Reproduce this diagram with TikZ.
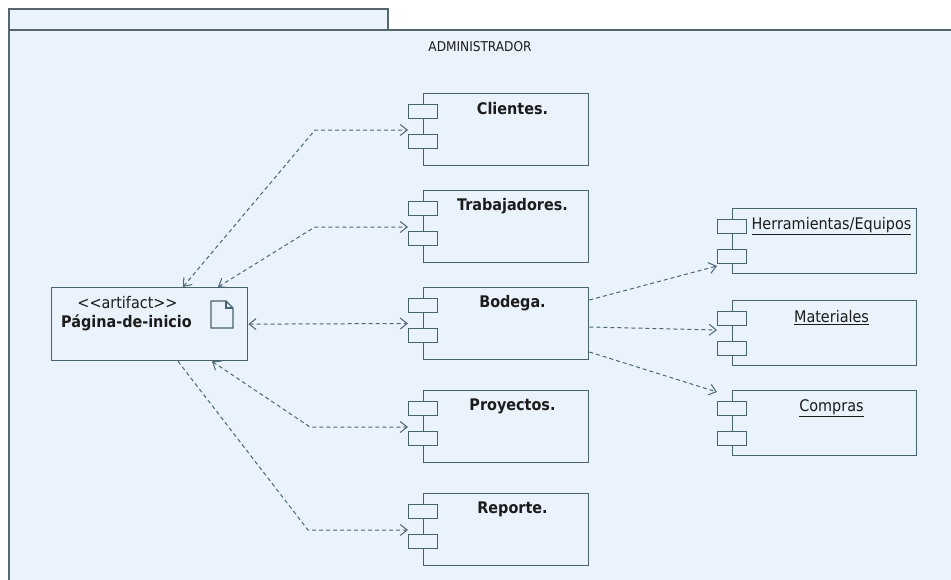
\documentclass[tikz,border=0pt]{standalone}
\usepackage{fontspec}
\setmainfont{DejaVu Sans Condensed}[Ligatures=TeXOff]
\usetikzlibrary{arrows.meta,calc}

\definecolor{pkgfill}{HTML}{EAF3FC}
\definecolor{pkgline}{HTML}{56666F}
\definecolor{edge}{HTML}{46626F}
\definecolor{depline}{HTML}{4C6674}
\definecolor{ink}{HTML}{1C1C1C}

\tikzset{
  comp/.style={draw=edge, line width=1.3pt, fill=pkgfill, anchor=north west,
    inner sep=0pt, minimum width=165pt, minimum height=72pt},
  rcomp/.style={comp, minimum width=184pt, minimum height=65pt},
  port/.style={draw=edge, line width=1.2pt, fill=pkgfill, anchor=north west,
    inner sep=0pt, minimum width=29pt, minimum height=14pt},
  ltitle/.style={text=ink, font=\fontsize{16}{19}\selectfont\bfseries, inner sep=0pt},
  rtitle/.style={text=ink, font=\fontsize{16}{19}\selectfont, inner sep=0pt},
  barb/.tip={Straight Barb[length=7pt,width=11pt,line width=1pt]},
  dep/.style={draw=depline, line width=1pt, dash pattern=on 4pt off 3pt},
}

% left-hand component: name, top edge, title
\newcommand\lcomp[3]{%
  \node[comp] (#1) at (423,#2) {};
  \node[port] (#1p1) at (408,{#2+11}) {};
  \node[port] (#1p2) at (408,{#2+41}) {};
  \node[ltitle] (#1t) at (512.5,{#2+16}) {#3};
}
% right-hand component: name, top edge, title
\newcommand\rcomp[3]{%
  \node[rcomp] (#1) at (732,#2) {};
  \node[port] (#1p1) at (717,{#2+11}) {};
  \node[port] (#1p2) at (717,{#2+41}) {};
  \node[rtitle] (#1t) at (831.5,{#2+18}) {\underline{#3}};
}

\begin{document}
\begin{tikzpicture}[x=1pt,y=-1pt]
\useasboundingbox (0,0) rectangle (951,579);
\fill[white] (0,0) rectangle (951,579);
\clip (0,0) rectangle (951,579);

% package frame with its tab
\draw[pkgline, line width=1.5pt, fill=pkgfill] (9,9) rectangle (388,30);
\draw[pkgline, line width=1.5pt, fill=pkgfill] (9,30) rectangle (980,610);
\node[text=ink, font=\fontsize{13.5}{16}\selectfont, inner sep=0pt] (pkgname) at (480,47) {ADMINISTRADOR};

% artifact
\node[draw=edge, line width=1.3pt, fill=pkgfill, anchor=north west, inner sep=0pt,
  minimum width=196pt, minimum height=73pt] (art) at (51,287) {};
\node[text=ink, font=\fontsize{16}{19}\selectfont, inner sep=0pt] (artst) at (127.5,303) {<<artifact>>};
\node[text=ink, font=\fontsize{16}{19}\selectfont\bfseries, inner sep=0pt] (artname) at (126.5,323) {Página-de-inicio};
\draw[edge, line width=1.2pt, line join=miter] (211,301) -- (226,301) -- (233,308) -- (233,328) -- (211,328) -- cycle;
\draw[edge, line width=1.2pt] (226,301) -- (226,308) -- (233,308);

% components
\lcomp{cli}{93}{Clientes.}
\lcomp{tra}{190}{Trabajadores.}
\lcomp{bod}{287}{Bodega.}
\lcomp{pro}{390}{Proyectos.}
\lcomp{rep}{493}{Reporte.}

\rcomp{her}{208}{Herramientas/Equipos}
\rcomp{mat}{300}{Materiales}
\rcomp{com}{390}{Compras}

% bend points of the dependencies
\coordinate (kcli) at (315,130);
\coordinate (ktra) at (315,227);
\coordinate (kpro) at (310,427);
\coordinate (krep) at (308,530);

% dependencies from the start page
\draw[dep, barb-barb] ($(art.north west)+(132,0)$) -- (kcli) -- ($(cli.north west)+(-15,37)$);
\draw[dep, barb-barb] ($(art.north west)+(167,0)$) -- (ktra) -- ($(tra.north west)+(-15,37)$);
\draw[dep, barb-barb] (art.east) -- ($(bod.north west)+(-15,36.5)$);
\draw[dep, barb-barb] ($(art.south west)+(161,0)$) -- (kpro) -- ($(pro.north west)+(-15,37)$);
\draw[dep, -barb] ($(art.south west)+(127,0)$) -- (krep) -- ($(rep.north west)+(-15,37)$);

% dependencies from the store
\draw[dep, -barb] ($(bod.north east)+(0,13)$) -- ($(her.north west)+(-15,58)$);
\draw[dep, -barb] ($(bod.north east)+(0,40)$) -- ($(mat.north west)+(-15,30)$);
\draw[dep, -barb] ($(bod.north east)+(0,65)$) -- ($(com.north west)+(-15,2)$);
\end{tikzpicture}
\end{document}
